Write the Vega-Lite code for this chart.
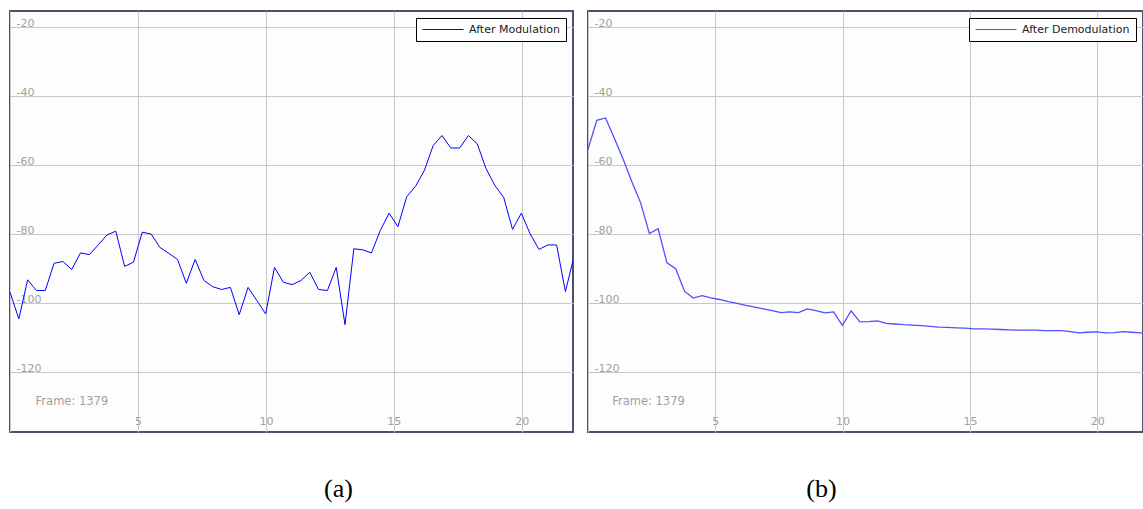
{
  "$schema": "https://vega.github.io/schema/vega-lite/v6.json",
  "background": "white",
  "padding": {"left": 9, "top": 10, "right": 0, "bottom": 0},
  "spacing": 13,
  "resolve": {"scale": {"x": "independent", "y": "independent", "color": "independent"}, "legend": {"color": "independent"}},
  "config": {
    "view": {"stroke": "#50506a", "strokeWidth": 2, "fill": "#fdfdfd"},
    "axisX": {"grid": true, "gridColor": "#c8c8c8", "gridWidth": 1, "ticks": false, "domain": false, "labelPadding": -8, "labelBaseline": "alphabetic", "labelColor": "#a0a0a0", "labelFont": "DejaVu Sans", "labelFontSize": 11, "labelFlush": false, "labelOverlap": false},
    "axisY": {"grid": true, "gridColor": "#c8c8c8", "gridWidth": 1, "ticks": false, "domain": false, "labelPadding": -6, "labelAlign": "left", "labelBaseline": "alphabetic", "labelColor": "#a0a0a0", "labelFont": "DejaVu Sans", "labelFontSize": 11, "labelFlush": false, "labelOverlap": false},
    "legend": {"orient": "top-right", "offset": 7, "padding": 6, "strokeColor": "#000000", "fillColor": "#ffffff", "symbolType": "stroke", "symbolSize": 1681, "symbolStrokeWidth": 1, "clipHeight": 11, "labelFont": "DejaVu Sans", "labelFontSize": 11, "labelColor": "#1a1a1a", "labelOffset": 5},
    "title": {"font": "Liberation Serif", "fontSize": 26, "fontWeight": "normal", "color": "#000000", "anchor": "middle"}
  },
  "hconcat": [
    {
      "width": 563,
      "height": 421,
      "title": {"text": "(a)", "orient": "bottom", "dx": 47, "offset": 44},
      "data": {"values": [
        {"f": 0, "db": -97.0}, {"f": 0.345, "db": -104.7}, {"f": 0.689, "db": -93.4}, {"f": 1.034, "db": -96.5},
        {"f": 1.378, "db": -96.5}, {"f": 1.723, "db": -88.6}, {"f": 2.067, "db": -88.1}, {"f": 2.412, "db": -90.4},
        {"f": 2.756, "db": -85.6}, {"f": 3.101, "db": -86.1}, {"f": 3.445, "db": -83.3}, {"f": 3.790, "db": -80.4},
        {"f": 4.134, "db": -79.3}, {"f": 4.479, "db": -89.5}, {"f": 4.823, "db": -88.3}, {"f": 5.168, "db": -79.6},
        {"f": 5.512, "db": -80.1}, {"f": 5.857, "db": -84.0}, {"f": 6.201, "db": -85.7}, {"f": 6.546, "db": -87.5},
        {"f": 6.890, "db": -94.4}, {"f": 7.235, "db": -87.5}, {"f": 7.579, "db": -93.6}, {"f": 7.924, "db": -95.4},
        {"f": 8.268, "db": -96.2}, {"f": 8.613, "db": -95.6}, {"f": 8.957, "db": -103.5}, {"f": 9.302, "db": -95.6},
        {"f": 9.646, "db": -99.4}, {"f": 9.991, "db": -103.3}, {"f": 10.335, "db": -89.8}, {"f": 10.680, "db": -94.1},
        {"f": 11.024, "db": -94.8}, {"f": 11.369, "db": -93.6}, {"f": 11.713, "db": -91.2}, {"f": 12.058, "db": -96.2},
        {"f": 12.402, "db": -96.5}, {"f": 12.747, "db": -89.8}, {"f": 13.091, "db": -106.4}, {"f": 13.436, "db": -84.4},
        {"f": 13.780, "db": -84.7}, {"f": 14.125, "db": -85.6}, {"f": 14.469, "db": -79.1}, {"f": 14.814, "db": -74.1},
        {"f": 15.158, "db": -78.0}, {"f": 15.503, "db": -69.3}, {"f": 15.847, "db": -66.3}, {"f": 16.192, "db": -61.7},
        {"f": 16.536, "db": -54.5}, {"f": 16.881, "db": -51.6}, {"f": 17.225, "db": -55.2}, {"f": 17.570, "db": -55.2},
        {"f": 17.914, "db": -51.6}, {"f": 18.259, "db": -54.0}, {"f": 18.603, "db": -61.2}, {"f": 18.948, "db": -66.1},
        {"f": 19.292, "db": -69.5}, {"f": 19.637, "db": -78.8}, {"f": 19.981, "db": -74.1}, {"f": 20.326, "db": -80.1},
        {"f": 20.670, "db": -84.6}, {"f": 21.015, "db": -83.3}, {"f": 21.359, "db": -83.3}, {"f": 21.704, "db": -96.8},
        {"f": 22.048, "db": -86.4}
      ]},
      "layer": [
        {
          "mark": {"type": "line", "clip": true, "strokeWidth": 1},
          "encoding": {
            "x": {"field": "f", "type": "quantitative", "title": null, "scale": {"domain": [0, 22], "nice": false, "zero": false},
                  "axis": {"values": [0, 5, 10, 15, 20], "labelExpr": "datum.value === 0 ? '' : datum.label"}},
            "y": {"field": "db", "type": "quantitative", "title": null, "scale": {"domain": [-137.5, -15.5], "nice": false, "zero": false},
                  "axis": {"values": [-120, -100, -80, -60, -40, -20], "labelExpr": "'' + datum.value"}},
            "color": {"datum": "After Modulation", "scale": {"range": ["#0000ff"]}, "legend": {"title": null, "symbolStrokeColor": "#000080"}}
          }
        },
        {
          "data": {"values": [{"f": 1.0, "db": -128.8, "t": "Frame: 1379"}]},
          "mark": {"type": "text", "align": "left", "baseline": "middle", "font": "DejaVu Sans", "fontSize": 11.5, "color": "#a0a0a0"},
          "encoding": {
            "x": {"field": "f", "type": "quantitative"},
            "y": {"field": "db", "type": "quantitative"},
            "text": {"field": "t"}
          }
        }
      ]
    },
    {
      "width": 555,
      "height": 421,
      "title": {"text": "(b)", "orient": "bottom", "dx": -44, "offset": 44},
      "data": {"values": [
        {"f": 0, "db": -55.6}, {"f": 0.345, "db": -47.2}, {"f": 0.689, "db": -46.5}, {"f": 1.034, "db": -52.4},
        {"f": 1.378, "db": -58.4}, {"f": 1.723, "db": -65.0}, {"f": 2.067, "db": -71.1}, {"f": 2.412, "db": -80.0},
        {"f": 2.756, "db": -78.6}, {"f": 3.101, "db": -88.5}, {"f": 3.445, "db": -90.2}, {"f": 3.790, "db": -96.7},
        {"f": 4.134, "db": -98.7}, {"f": 4.479, "db": -98.0}, {"f": 4.823, "db": -98.6}, {"f": 5.168, "db": -99.1},
        {"f": 5.512, "db": -99.7}, {"f": 5.857, "db": -100.2}, {"f": 6.201, "db": -100.8}, {"f": 6.546, "db": -101.3},
        {"f": 6.890, "db": -101.8}, {"f": 7.235, "db": -102.3}, {"f": 7.579, "db": -102.9}, {"f": 7.924, "db": -102.7},
        {"f": 8.268, "db": -102.9}, {"f": 8.613, "db": -101.8}, {"f": 8.957, "db": -102.3}, {"f": 9.302, "db": -103.0},
        {"f": 9.646, "db": -102.7}, {"f": 9.991, "db": -106.6}, {"f": 10.335, "db": -102.4}, {"f": 10.680, "db": -105.6},
        {"f": 11.024, "db": -105.5}, {"f": 11.369, "db": -105.3}, {"f": 11.713, "db": -106.0}, {"f": 12.058, "db": -106.2},
        {"f": 12.402, "db": -106.4}, {"f": 12.747, "db": -106.5}, {"f": 13.091, "db": -106.7}, {"f": 13.436, "db": -106.9},
        {"f": 13.780, "db": -107.1}, {"f": 14.125, "db": -107.2}, {"f": 14.469, "db": -107.3}, {"f": 14.814, "db": -107.4},
        {"f": 15.158, "db": -107.6}, {"f": 15.503, "db": -107.6}, {"f": 15.847, "db": -107.7}, {"f": 16.192, "db": -107.8},
        {"f": 16.536, "db": -107.9}, {"f": 16.881, "db": -108.0}, {"f": 17.225, "db": -108.0}, {"f": 17.570, "db": -108.0},
        {"f": 17.914, "db": -108.1}, {"f": 18.259, "db": -108.1}, {"f": 18.603, "db": -108.1}, {"f": 18.948, "db": -108.4},
        {"f": 19.292, "db": -108.8}, {"f": 19.637, "db": -108.6}, {"f": 19.981, "db": -108.5}, {"f": 20.326, "db": -108.8},
        {"f": 20.670, "db": -108.7}, {"f": 21.015, "db": -108.4}, {"f": 21.359, "db": -108.6}, {"f": 21.704, "db": -108.8},
        {"f": 22.048, "db": -109.0}
      ]},
      "layer": [
        {
          "mark": {"type": "line", "clip": true, "strokeWidth": 1.3},
          "encoding": {
            "x": {"field": "f", "type": "quantitative", "title": null, "scale": {"domain": [0, 21.8], "nice": false, "zero": false},
                  "axis": {"values": [0, 5, 10, 15, 20], "labelExpr": "datum.value === 0 ? '' : datum.label"}},
            "y": {"field": "db", "type": "quantitative", "title": null, "scale": {"domain": [-137.5, -15.5], "nice": false, "zero": false},
                  "axis": {"values": [-120, -100, -80, -60, -40, -20], "labelExpr": "'' + datum.value"}},
            "color": {"datum": "After Demodulation", "scale": {"range": ["#5050ff"]}, "legend": {"title": null, "symbolStrokeColor": "#6a6aff"}}
          }
        },
        {
          "data": {"values": [{"f": 0.95, "db": -128.8, "t": "Frame: 1379"}]},
          "mark": {"type": "text", "align": "left", "baseline": "middle", "font": "DejaVu Sans", "fontSize": 11.5, "color": "#a0a0a0"},
          "encoding": {
            "x": {"field": "f", "type": "quantitative"},
            "y": {"field": "db", "type": "quantitative"},
            "text": {"field": "t"}
          }
        }
      ]
    }
  ]
}
